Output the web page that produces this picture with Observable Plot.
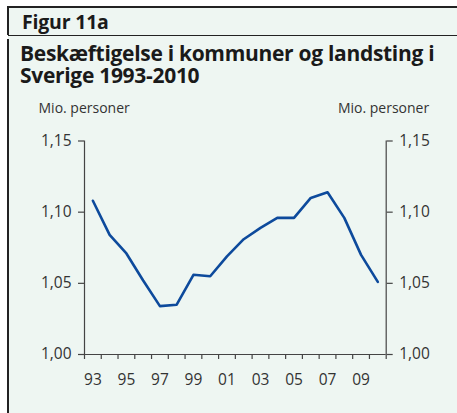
<!DOCTYPE html>
<html><head><meta charset="utf-8">
<script src="https://cdn.jsdelivr.net/npm/d3@7"></script>
<script src="https://cdn.jsdelivr.net/npm/@observablehq/plot@0.6"></script>
<style>
html,body{margin:0;padding:0;background:#fff;width:457px;height:413px;overflow:hidden;}
#bg{position:absolute;left:8px;top:7px;width:449px;height:406px;background:#eef6f2;}
.line{position:absolute;background:#222;}
#fig{position:absolute;left:22px;top:12px;font:700 19.5px/19px "Open Sans",sans-serif;color:#1a1a1a;letter-spacing:-0.2px;white-space:nowrap;}
.title{position:absolute;left:20px;font:700 21px/23px "Open Sans",sans-serif;color:#1a1a1a;letter-spacing:-0.3px;white-space:nowrap;}
#chart{position:absolute;left:0;top:92px;}
</style></head>
<body>
<div id="bg"></div>
<div class="line" style="left:7px;top:6px;width:450px;height:1.5px"></div>
<div class="line" style="left:7px;top:8px;width:1.5px;height:27px"></div>
<div class="line" style="left:8px;top:35px;width:449px;height:1.2px"></div>
<div class="line" style="left:7px;top:39px;width:1.5px;height:374px"></div>
<div id="fig">Figur 11a</div>
<div class="title" style="top:42px">Beskæftigelse i kommuner og landsting i</div>
<div class="title" style="top:64px">Sverige 1993-2010</div>
<div id="chart"></div>
<script>
const years = [1993,1994,1995,1996,1997,1998,1999,2000,2001,2002,2003,2004,2005,2006,2007,2008,2009,2010];
const employment = [1.108,1.084,1.071,1.052,1.034,1.035,1.056,1.055,1.069,1.081,1.089,1.096,1.096,1.110,1.114,1.096,1.070,1.051];
const yTicks = [1.00,1.05,1.10,1.15];
const xLabelYears = [1993,1995,1997,1999,2001,2003,2005,2007,2009];
const unitLabel = "Mio. personer";

const data = years.map((y,i)=>({year:y, value:employment[i]}));
const xMin = years[0]-0.5, xMax = years[years.length-1]+0.5;
const boundaries = years.map(y=>y-0.5).concat([xMax]);
const fmtY = d => d.toFixed(2).replace(".", ",");
const axisColor = "#444";
const font = "Open Sans, sans-serif";

const plot = Plot.plot({
  width: 457,
  height: 321,
  marginTop: 48.5,
  marginBottom: 59,
  marginLeft: 84,
  marginRight: 71.3,
  style: {background: "transparent", fontFamily: font, fontSize: "15.5px", color: "#333", overflow: "visible"},
  x: {domain: [xMin, xMax], label: null},
  y: {domain: [yTicks[0], yTicks[yTicks.length-1]], label: null},
  marks: [
    Plot.ruleX([xMin], {stroke: axisColor, strokeWidth: 1.2}),
    Plot.ruleX([xMax], {stroke: axisColor, strokeWidth: 1.2}),
    Plot.ruleY([yTicks[0]], {stroke: axisColor, strokeWidth: 1.2}),
    Plot.axisY({anchor: "left", ticks: yTicks, tickFormat: fmtY, tickSize: 6, tickPadding: 7, stroke: axisColor, strokeWidth: 1.2, fill: "#333"}),
    Plot.axisY({anchor: "right", ticks: yTicks, tickFormat: fmtY, tickSize: 6, tickPadding: 7, stroke: axisColor, strokeWidth: 1.2, fill: "#333"}),
    Plot.axisX({anchor: "bottom", ticks: boundaries, tickFormat: () => "", tickSize: 5, stroke: axisColor, strokeWidth: 1.2}),
    Plot.axisX({anchor: "bottom", ticks: xLabelYears, tickFormat: d => String(d).slice(2), tickSize: 0, tickPadding: 19, fill: "#333"}),
    Plot.line(data, {x: "year", y: "value", stroke: "#0d4a9c", strokeWidth: 2.6, strokeLinejoin: "round"}),
    Plot.text([unitLabel], {frameAnchor: "top-left", text: d => d, dx: -46, dy: -28, textAnchor: "start", lineAnchor: "bottom", fontSize: 14, fill: "#333"}),
    Plot.text([unitLabel], {frameAnchor: "top-right", text: d => d, dx: 43, dy: -28, textAnchor: "end", lineAnchor: "bottom", fontSize: 14, fill: "#333"})
  ]
});
document.getElementById("chart").appendChild(plot);
</script>
</body></html>
